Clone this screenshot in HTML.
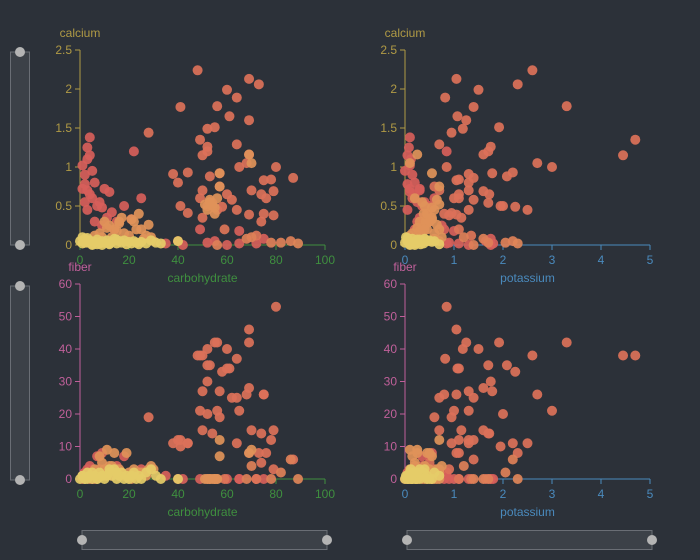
<!DOCTYPE html>
<html><head><meta charset="utf-8"><style>
html,body{margin:0;padding:0;background:#2c3139;}
svg{display:block;font-family:"Liberation Sans",sans-serif;}
</style></head><body>
<svg id="chart" width="700" height="560">
<rect x="0" y="0" width="700" height="560" fill="#2c3139"/>
</svg>
<script>
// data arrays: per-food values
const carbohydrate = [48,69,73,60,64,56,41,61,69,52,55,64,49,28,52,52,50,69,68,65,80,57,38,44,53,40,75,78,87,57,70,79,74,60,50,62,49,76,41,44,58,64,52,54,56,50,69,75,79,74,
49,59,65,72,68,75,82,86,89,52,56,65,78,72,35,40,42,55,60,70,
4,3,4,1,3,5,2,2,6,1,3,4,5,2,7,10,12,8,9,22,25,13,11,18,15,6,9,3,14,21,
10,12,14,16,17,18,20,22,24,25,28,13,15,11,19,8,6,26,30,9,16,21,23,27,29,
53,54,55,52,56,51,57,53,55,70,69,57,
0,1,2,3,4,5,6,7,8,9,10,11,12,13,14,15,16,17,18,19,20,21,22,23,24,25,27,29,31,33,40,1,3,5,7,9,2,4,12,15];
const calcium = [2.24,2.13,2.06,1.99,1.89,1.78,1.77,1.65,1.6,1.49,1.51,1.29,1.35,1.44,1.26,1.2,1.15,1.16,1.05,1.0,1.0,0.92,0.91,0.93,0.88,0.8,0.83,0.84,0.86,0.75,0.7,0.69,0.65,0.65,0.7,0.58,0.6,0.6,0.5,0.41,0.49,0.45,0.5,0.54,0.45,0.35,0.39,0.4,0.38,0.3,
0.2,0.2,0.18,0.12,0.08,0.08,0.03,0.05,0.02,0.03,0.0,0.02,0.03,0.02,0.02,0.05,0.0,0.05,0.0,0.1,
1.38,1.25,1.15,1.02,1.1,0.95,0.9,0.78,0.8,0.72,0.7,0.65,0.6,0.55,0.5,0.72,0.68,0.55,0.48,1.2,0.6,0.42,0.35,0.5,0.3,0.3,0.25,0.45,0.2,0.33,
0.3,0.25,0.2,0.3,0.35,0.15,0.12,0.3,0.4,0.2,0.26,0.1,0.18,0.22,0.05,0.15,0.12,0.08,0.05,0.1,0.28,0.33,0.2,0.12,0.1,
0.55,0.5,0.48,0.45,0.6,0.52,0.92,0.58,0.4,1.05,1.16,0.75,
0.05,0.02,0.08,0.03,0.06,0.01,0.04,0.07,0.02,0.05,0.03,0.06,0.01,0.04,0.08,0.02,0.05,0.03,0.06,0.01,0.04,0.02,0.05,0.03,0.01,0.04,0.02,0.06,0.03,0.02,0.05,0.1,0.09,0.0,0.01,0.0,0.03,0.05,0.02,0.07];
const potassium = [2.6,1.05,2.3,1.5,0.82,3.3,1.4,1.07,1.25,1.18,1.92,0.7,4.7,0.95,1.75,1.7,4.45,1.6,2.7,3.0,0.85,1.78,1.3,2.2,2.08,1.3,1.05,1.1,1.4,0.6,0.7,1.6,1.72,1.1,1.3,1.4,1.0,1.1,1.95,0.95,2.25,2.5,2.0,1.7,1.3,1.15,1.05,0.8,0.9,0.5,
0.8,1.1,1.0,1.35,1.6,1.75,2.05,2.2,2.3,0.9,1.4,1.8,1.7,1.1,0.85,0.25,1.3,1.65,1.75,1.2,
0.1,0.08,0.05,0.1,0.12,0.0,0.15,0.05,0.2,0.1,0.3,0.2,0.15,0.25,0.35,0.3,0.1,0.4,0.55,0.85,0.6,0.45,0.3,0.5,0.35,0.25,0.75,0.05,0.2,0.45,
0.3,0.4,0.45,0.5,0.55,0.6,0.35,0.42,0.38,0.7,0.65,0.2,0.3,0.25,0.5,0.15,0.1,0.6,0.7,0.2,0.45,0.55,0.4,0.35,0.75,
0.35,0.4,0.55,0.6,0.2,0.7,0.55,0.65,0.45,0.1,0.25,0.7,
0.05,0.1,0.15,0.2,0.08,0.12,0.25,0.3,0.18,0.05,0.22,0.35,0.1,0.28,0.4,0.15,0.45,0.2,0.5,0.32,0.55,0.12,0.6,0.25,0.7,0.08,0.38,0.3,0.18,0.22,0.45,0.02,0.05,0.1,0.14,0.2,0.0,0.06,0.12,0.25];
const fiber = [38,46,8,40,37,42,12,34,42,40,42,25,38,19,30,35,38,28,26,21,53,27,11,11,35,12,26,12,6,19,15,15,14,34,27,25,21,8,10,11,33,11,20,14,21,15,8,26,3,5,
0,0,0,0,0,0,2,6,0,0,0,0,0,0,1,0,0,0,0,4,
1,2,0,1,3,0,2,1,2,0,1,4,3,2,7,1,2,3,8,2,3,1,2,7,4,0,1,2,3,1,
3,4,8,3,2,1,2,3,2,2,3,4,3,9,8,7,3,2,3,5,1,0,2,1,4,
0,0,0,0,0,0,7,0,0,9,8,12,
0,1,0,2,1,0,1,0,2,1,0,1,2,1,3,0,1,2,0,1,0,1,2,0,1,0,2,3,1,0,0,1,0,2,0,1,0,1,3,2];
const colorValue = [].concat(
  Array(50).fill(0.25),
  [0.05,0.3,0.05,0.3,0.4,0.05,0.4,0.4,0.45,0.05,0.4,0.05,0.4,0.05,0.05,0.05,0.05,0.05,0.05,0.4],
  Array(30).fill(0.04),
  Array(25).fill(0.55),
  Array(12).fill(0.55),
  Array(40).fill(0.95));
const carbTicks = [0,20,40,60,80,100];
const calciumTicks = [0,0.5,1,1.5,2,2.5];
const fiberTicks = [0,10,20,30,40,50,60];
const potassiumTicks = [0,1,2,3,4,5];

const svg = document.getElementById('chart');
const NS = 'http://www.w3.org/2000/svg';
function mk(tag, attrs, parent){const e=document.createElementNS(NS,tag);for(const k in attrs)e.setAttribute(k,attrs[k]);(parent||svg).appendChild(e);return e;}
const stops=[[214,90,90],[222,120,88],[224,160,90],[230,212,106]];
function color(c){const t=c*3;const i=Math.min(2,Math.floor(t));const f=t-i;const a=stops[i],b=stops[i+1];return 'rgb('+a.map((v,j)=>Math.round(v+(b[j]-v)*f)).join(',')+')';}
const COL={calcium:'#b09a45',carbohydrate:'#3f8f3f',fiber:'#c0609a',potassium:'#4a8abd'};
const X0L=80,X1L=325,X0R=405,X1R=650;
const panels=[
 {name:'carb-calcium',x:carbohydrate,y:calcium,xr:[X0L,X1L],yr:[245,50],xmax:100,ymax:2.5,xt:carbTicks,yt:calciumTicks,xn:'carbohydrate',yn:'calcium',xny:282},
 {name:'potassium-calcium',x:potassium,y:calcium,xr:[X0R,X1R],yr:[245,50],xmax:5,ymax:2.5,xt:potassiumTicks,yt:calciumTicks,xn:'potassium',yn:'calcium',xny:282},
 {name:'carb-fiber',x:carbohydrate,y:fiber,xr:[X0L,X1L],yr:[479,284],xmax:100,ymax:60,xt:carbTicks,yt:fiberTicks,xn:'carbohydrate',yn:'fiber',xny:516},
 {name:'potassium-fiber',x:potassium,y:fiber,xr:[X0R,X1R],yr:[479,284],xmax:5,ymax:60,xt:potassiumTicks,yt:fiberTicks,xn:'potassium',yn:'fiber',xny:516}
];
panels.forEach(p=>{
  const g=mk('g',{});
  
  
  const sx=v=>p.xr[0]+(p.xr[1]-p.xr[0])*v/p.xmax;
  const sy=v=>p.yr[0]+(p.yr[1]-p.yr[0])*v/p.ymax;
  const yc=COL[p.yn], xc=COL[p.xn];
  // y axis
  const ya=mk('line',{x1:p.xr[0],x2:p.xr[0],y1:p.yr[0],y2:p.yr[1],stroke:yc,'stroke-width':1},g);
  
  
  p.yt.forEach(t=>{
    mk('line',{x1:p.xr[0]-5,x2:p.xr[0],y1:sy(t),y2:sy(t),stroke:yc},g);
    const tx=mk('text',{x:p.xr[0]-8,y:sy(t)+4,'text-anchor':'end','font-size':12,fill:yc},g);
    tx.textContent=t;
    
    
  });
  const yn=mk('text',{x:p.xr[0],y:p.yr[1]-13,'text-anchor':'middle','font-size':12,fill:yc},g);
  yn.textContent=p.yn;
  
  
  // x axis
  const xa=mk('line',{x1:p.xr[0],x2:p.xr[1],y1:p.yr[0],y2:p.yr[0],stroke:xc},g);
  
  
  p.xt.forEach(t=>{
    mk('line',{x1:sx(t),x2:sx(t),y1:p.yr[0],y2:p.yr[0]+5,stroke:xc},g);
    const tx=mk('text',{x:sx(t),y:p.yr[0]+19,'text-anchor':'middle','font-size':12,fill:xc},g);
    tx.textContent=t;
    
    
  });
  const xn=mk('text',{x:(p.xr[0]+p.xr[1])/2,y:p.xny,'text-anchor':'middle','font-size':12,fill:xc},g);
  xn.textContent=p.xn;
  
  
  // points, draw yellow last
  const idx=p.x.map((_,i)=>i).sort((a,b)=>colorValue[a]-colorValue[b]);
  idx.forEach(i=>{
    const c=mk('circle',{cx:sx(p.x[i]),cy:sy(p.y[i]),r:5,fill:color(colorValue[i]),'fill-opacity':0.92},g);
    
    
  });
});
// data zoom sliders
function vslider(y0,y1,name){
  const g=mk('g',{});
  
  
  mk('rect',{x:10.5,y:y0,width:19,height:y1-y0,fill:'rgba(255,255,255,0.08)',stroke:'#6a6e75'},g);
  [y0,y1].forEach(y=>{mk('circle',{cx:20,cy:y,r:5,fill:'#b4b4b4'},g);});
}
function hslider(x0,x1,name){
  const g=mk('g',{});
  
  
  mk('rect',{x:x0,y:530.5,width:x1-x0,height:19,fill:'rgba(255,255,255,0.08)',stroke:'#6a6e75'},g);
  [x0,x1].forEach(x=>{mk('circle',{cx:x,cy:540,r:5,fill:'#b4b4b4'},g);});
}
vslider(52,245,'calcium-zoom-slider');
vslider(286,480,'fiber-zoom-slider');
hslider(82,327,'carbohydrate-zoom-slider');
hslider(407,652,'potassium-zoom-slider');
</script>
</body></html>
